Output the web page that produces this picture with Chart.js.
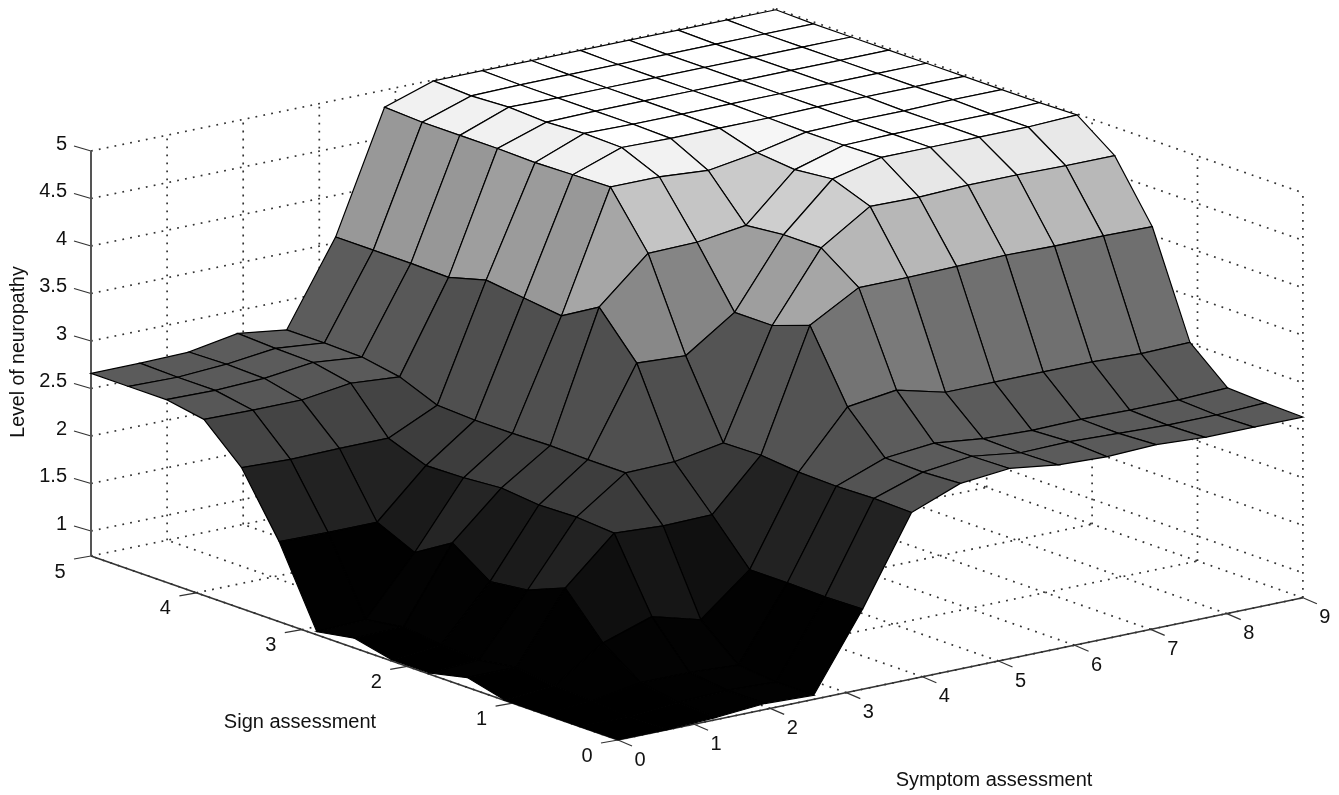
<!DOCTYPE html>
<html lang="en">
<head>
    <meta charset="UTF-8">
    <title>Level of neuropathy surface</title>
    <script src="https://cdn.jsdelivr.net/npm/chart.js"></script>
    <style>
        html, body { margin: 0; padding: 0; background: #fff; }
        canvas { display: block; }
    </style>
</head>
<body>
    <canvas id="myChart" width="1339" height="795"></canvas>

    <script>
        // grid of the surface: 15 x 15 samples
        const symptomSteps = [0, 1, 2, 3, 4, 5, 6, 7, 8, 9, 10, 11, 12, 13, 14];
        const signSteps = [0, 1, 2, 3, 4, 5, 6, 7, 8, 9, 10, 11, 12, 13, 14];

        // level of neuropathy, one row per sign step
        const levels0 = [.74, .74, .76, .80, .78, 1.58, 2.49, 2.69, 2.74, 2.67, 2.65, 2.67, 2.64, 2.64, 2.64];
        const levels1 = [.74, .74, .78, .80, .78, 1.57, 2.50, 2.67, 2.73, 2.66, 2.67, 2.65, 2.63, 2.63, 2.65];
        const levels2 = [.74, .76, .85, .85, .82, 1.58, 2.49, 2.68, 2.73, 2.67, 2.65, 2.66, 2.65, 2.65, 2.67];
        const levels3 = [.74, .78, 1.13, 1.30, 1.16, 1.58, 2.50, 3.08, 3.15, 3.02, 3.02, 3.02, 3.02, 3.00, 3.01];
        const levels4 = [.84, .84, 1.57, 2.04, 2.01, 2.02, 2.54, 3.80, 4.09, 4.09, 4.10, 4.11, 4.10, 4.10, 4.09];
        const levels5 = [.75, .78, 1.41, 2.07, 2.43, 2.44, 2.53, 3.66, 4.37, 4.70, 4.69, 4.71, 4.71, 4.70, 4.70];
        const levels6 = [.75, .80, 1.36, 2.06, 2.43, 3.34, 3.31, 3.66, 4.37, 4.85, 4.97, 4.97, 4.97, 4.97, 4.99];
        const levels7 = [.84, .85, 1.63, 2.10, 2.44, 3.79, 4.25, 4.26, 4.33, 4.81, 4.96, 4.97, 4.97, 4.97, 4.98];
        const levels8 = [.77, .79, 1.39, 2.07, 2.43, 3.56, 4.81, 4.81, 4.77, 4.85, 4.96, 4.97, 4.97, 4.98, 4.98];
        const levels9 = [1.58, 1.57, 1.57, 2.06, 2.43, 3.61, 4.80, 4.98, 4.97, 4.97, 4.97, 4.98, 4.98, 4.98, 4.98];
        const levels10 = [2.22, 2.20, 2.21, 2.21, 2.45, 3.66, 4.79, 4.99, 4.98, 4.98, 4.98, 4.98, 4.98, 4.98, 4.98];
        const levels11 = [2.59, 2.58, 2.58, 2.65, 2.61, 3.55, 4.80, 4.97, 4.98, 4.98, 4.98, 4.98, 4.98, 4.98, 4.98];
        const levels12 = [2.66, 2.65, 2.67, 2.73, 2.68, 3.56, 4.80, 4.99, 4.98, 4.98, 4.98, 4.98, 4.98, 4.98, 4.98];
        const levels13 = [2.66, 2.65, 2.68, 2.74, 2.69, 3.56, 4.80, 4.97, 4.98, 4.98, 4.98, 4.98, 4.98, 4.98, 4.98];
        const levels14 = [2.66, 2.66, 2.67, 2.76, 2.69, 3.56, 4.82, 4.99, 4.99, 4.99, 4.99, 4.99, 4.99, 4.99, 4.99];
        const levelRows = [levels0, levels1, levels2, levels3, levels4, levels5, levels6, levels7,
            levels8, levels9, levels10, levels11, levels12, levels13, levels14];

        // axis ticks
        const symptomTicks = [0, 1, 2, 3, 4, 5, 6, 7, 8, 9];
        const signTicks = [0, 1, 2, 3, 4, 5];
        const levelTicks = [1, 1.5, 2, 2.5, 3, 3.5, 4, 4.5, 5];
        const levelBottom = 0.737;

        // grey of a facet for its level
        const shadeLevels = [.74, .9, 1.16, 1.58, 2.05, 2.45, 2.65, 3.02, 3.56, 4.1, 4.7, 4.95, 5];
        const shadeGreys = [0, 4, 16, 34, 60, 80, 90, 112, 152, 184, 232, 255, 255];

        function shadeFor(level) {
            let k = 0;
            while (k < shadeLevels.length - 2 && level > shadeLevels[k + 1]) k++;
            const t = Math.min(1, Math.max(0, (level - shadeLevels[k]) / (shadeLevels[k + 1] - shadeLevels[k])));
            const g = Math.round(shadeGreys[k] + t * (shadeGreys[k + 1] - shadeGreys[k]));
            return 'rgb(' + g + ',' + g + ',' + g + ')';
        }

        // fixed orthographic view, same as the 3d view of the picture
        function project(symptom, sign, level) {
            return {
                x: 618 + 76.1 * symptom - 105.4 * sign,
                y: 740 - 15.8 * symptom - 36.8 * sign - 95 * (level - levelBottom)
            };
        }

        function gridPoint(i, j) {
            return project(symptomSteps[i] * 9 / 14, signSteps[j] * 5 / 14, levelRows[j][i]);
        }

        function lineSet(points, color, width, dash) {
            return {
                data: points, borderColor: color, borderWidth: width, borderDash: dash || [],
                fill: false, pointRadius: 0, tension: 0, clip: false
            };
        }

        const datasets = [];

        // first dataset is painted last, so start at the nearest corner
        for (let i = 0; i < 14; i++) {
            for (let j = 0; j < 14; j++) {
                const a = gridPoint(i, j);
                datasets.push({
                    data: [a, gridPoint(i + 1, j), gridPoint(i + 1, j + 1), gridPoint(i, j + 1), a],
                    fill: 'shape',
                    backgroundColor: shadeFor(levelRows[j][i]),
                    borderColor: '#000',
                    borderWidth: 1.2,
                    pointRadius: 0,
                    tension: 0,
                    clip: false
                });
            }
        }

        // solid axes and tick marks
        const axisColor = '#333';
        datasets.push(lineSet([project(0, 0, levelBottom), project(9, 0, levelBottom)], axisColor, 1.6));
        datasets.push(lineSet([project(0, 0, levelBottom), project(0, 5, levelBottom)], axisColor, 1.6));
        datasets.push(lineSet([project(0, 5, levelBottom), project(0, 5, 5)], '#555', 2));
        symptomTicks.forEach(s => {
            const p = project(s, 0, levelBottom);
            datasets.push(lineSet([p, { x: p.x + 14, y: p.y + 6 }], axisColor, 1.2));
        });
        signTicks.forEach(g => {
            const p = project(0, g, levelBottom);
            datasets.push(lineSet([p, { x: p.x - 17, y: p.y + 3 }], axisColor, 1.2));
        });
        levelTicks.forEach(z => {
            const p = project(0, 5, z);
            datasets.push(lineSet([p, { x: p.x - 17, y: p.y - 5 }], axisColor, 1.2));
        });

        // dotted grid on floor and the two back walls
        const dotColor = '#333';
        const dots = [1.8, 6.2];
        symptomTicks.forEach(s => {
            datasets.push(lineSet([project(s, 0, levelBottom), project(s, 5, levelBottom)], dotColor, 1.7, dots));
            datasets.push(lineSet([project(s, 5, levelBottom), project(s, 5, 5)], dotColor, 1.7, dots));
        });
        signTicks.forEach(g => {
            datasets.push(lineSet([project(0, g, levelBottom), project(9, g, levelBottom)], dotColor, 1.7, dots));
            datasets.push(lineSet([project(9, g, levelBottom), project(9, g, 5)], dotColor, 1.7, dots));
        });
        levelTicks.forEach(z => {
            datasets.push(lineSet([project(0, 5, z), project(9, 5, z)], dotColor, 1.7, dots));
            datasets.push(lineSet([project(9, 5, z), project(9, 0, z)], dotColor, 1.7, dots));
        });

        // tick numbers and axis titles go through the chart scales as well
        const axisText = {
            id: 'axisText',
            afterDatasetsDraw(chart) {
                const { ctx, scales } = chart;
                const put = (text, p, dx, dy, align, angle) => {
                    ctx.save();
                    ctx.translate(scales.x.getPixelForValue(p.x) + dx, scales.y.getPixelForValue(p.y) + dy);
                    if (angle) ctx.rotate(angle);
                    ctx.textAlign = align || 'center';
                    ctx.textBaseline = 'middle';
                    ctx.fillText(text, 0, 0);
                    ctx.restore();
                };
                ctx.save();
                ctx.fillStyle = '#111';
                ctx.font = '20px "Liberation Sans"';
                symptomTicks.forEach(s => put(String(s), project(s, 0, levelBottom), 22, 20));
                signTicks.forEach(g => put(String(g), project(0, g, levelBottom), -31, 16));
                levelTicks.forEach(z => put(String(z), project(0, 5, z), -24, -7, 'right'));
                put('Sign assessment', { x: 300, y: 722 }, 0, 0);
                put('Symptom assessment', { x: 994, y: 780 }, 0, 0);
                ctx.font = '19.5px "Liberation Sans"';
                put('Level of neuropathy', { x: 19, y: 352 }, 0, 0, 'center', -Math.PI / 2);
                ctx.restore();
            }
        };

        const ctx = document.getElementById('myChart').getContext('2d');
        const myChart = new Chart(ctx, {
            type: 'line',
            data: { datasets: datasets },
            options: {
                responsive: false,
                animation: false,
                parsing: false,
                normalized: false,
                events: [],
                layout: { padding: 0 },
                scales: {
                    x: { type: 'linear', min: 0, max: 1339, display: false },
                    y: { type: 'linear', min: 0, max: 795, reverse: true, display: false }
                },
                plugins: {
                    legend: { display: false },
                    tooltip: { enabled: false },
                    filler: { drawTime: 'beforeDatasetDraw', propagate: false }
                }
            },
            plugins: [axisText]
        });
    </script>
</body>
</html>
